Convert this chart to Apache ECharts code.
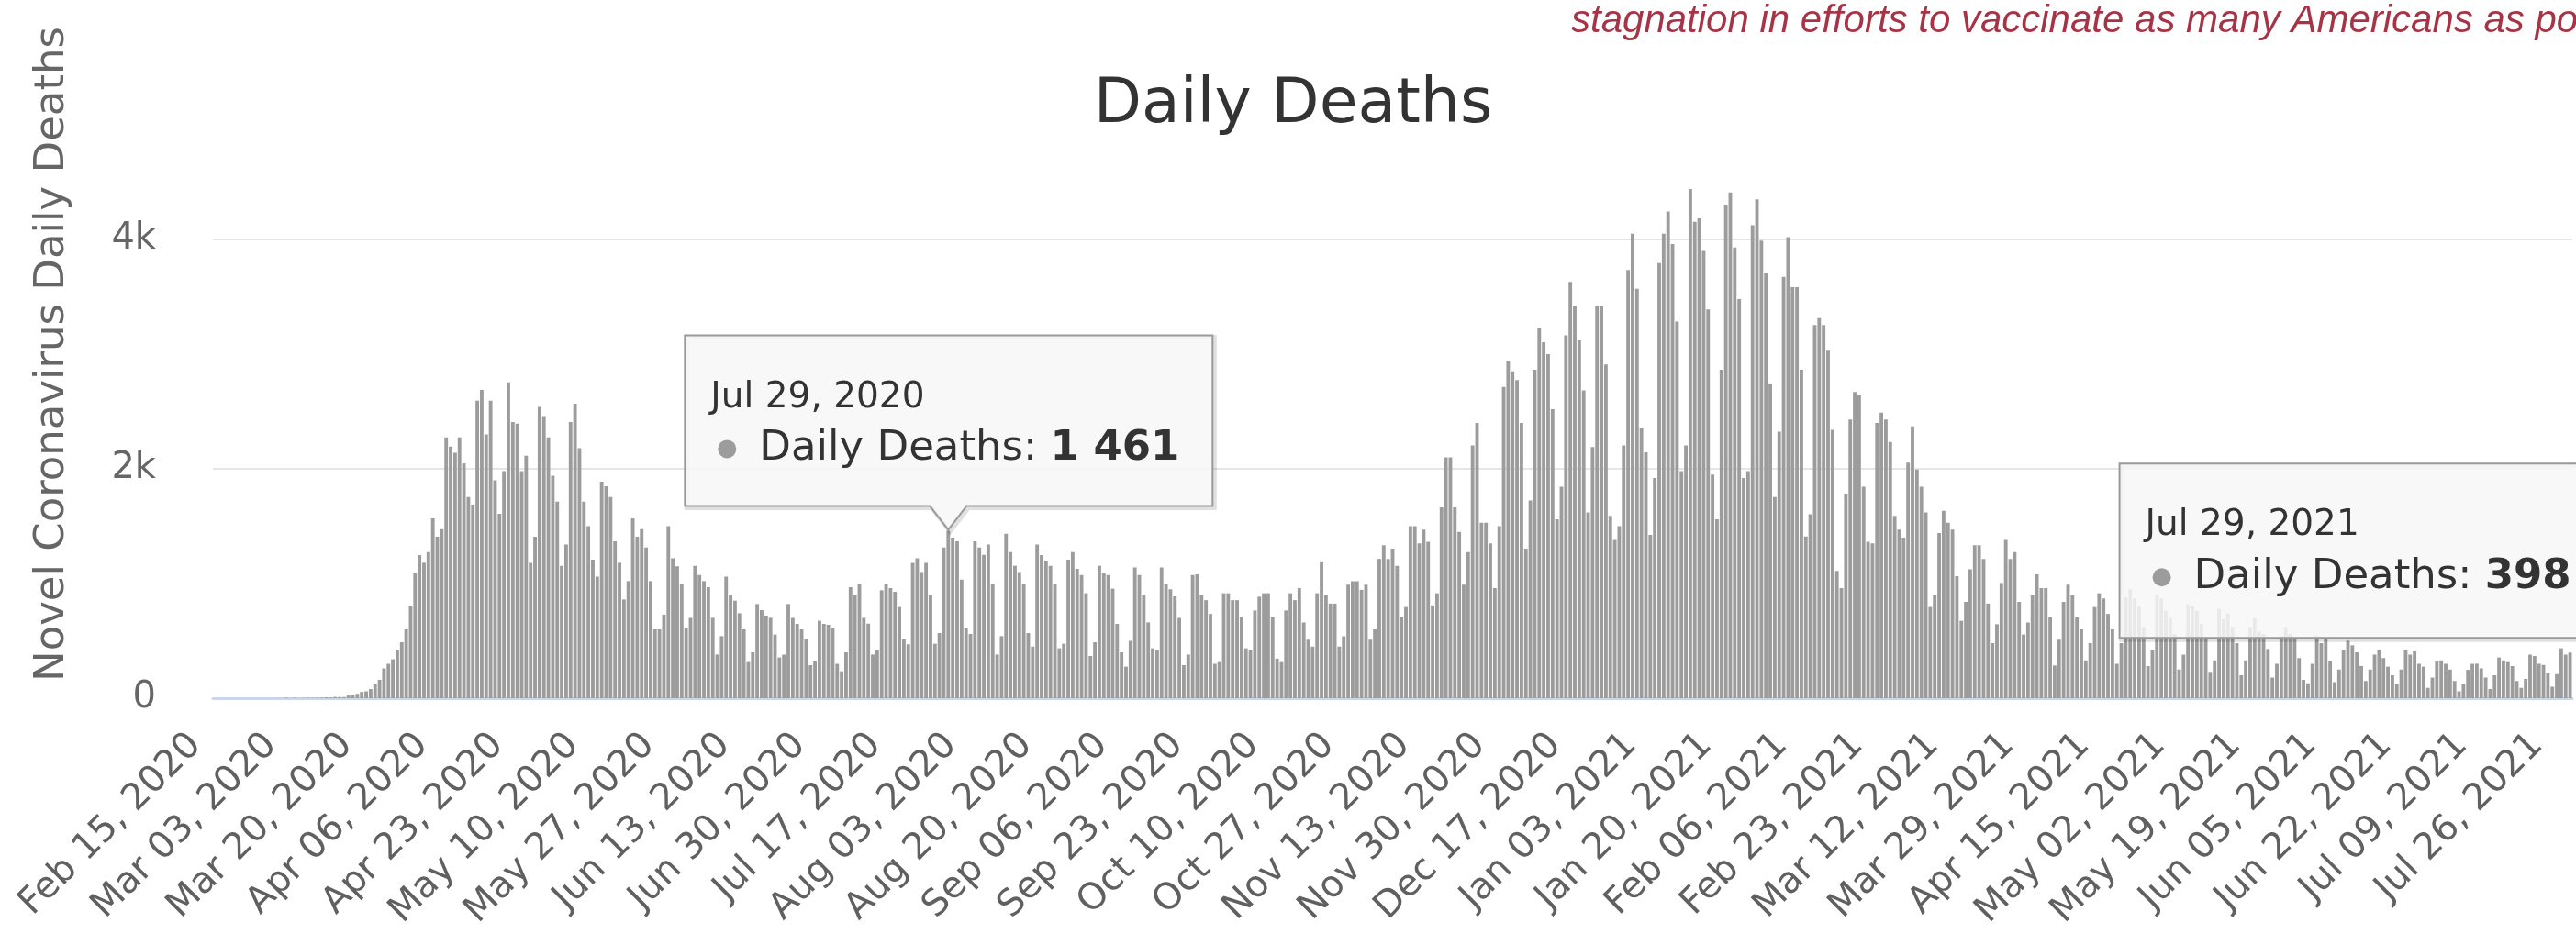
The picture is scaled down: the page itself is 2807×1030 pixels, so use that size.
<!DOCTYPE html>
<html>
<head>
<meta charset="utf-8">
<script src="https://cdn.jsdelivr.net/npm/echarts@6/dist/echarts.min.js"></script>
<style>
  html, body { margin: 0; padding: 0; background: #fff; }
  #chart { width: 2807px; height: 1030px; }
</style>
</head>
<body>
<div id="chart"></div>
<script>
// daily values, one row per week (Sat .. Fri), starting Sat Feb 15, 2020
const startDate = [2020, 1, 15]
const dailyDeaths = [
  0, 0, 0, 0, 0, 0, 0,
  0, 0, 0, 0, 0, 0, 0,
  1, 1, 5, 1, 4, 1, 3,
  4, 3, 4, 5, 8, 7, 11,
  10, 10, 23, 25, 38, 55, 60,
  80, 120, 160, 260, 300, 340, 420,
  488, 600, 808, 1088, 1248, 1181, 1275,
  1568, 1408, 1475, 2275, 2195, 2141, 2275,
  2048, 1755, 1688, 2595, 2688, 2300, 2595,
  1901, 1608, 1981, 2755, 2408, 2395, 1981,
  2115, 1181, 1408, 2541, 2461, 2275, 1941,
  1715, 1155, 1341, 2408, 2568, 2181, 1715,
  1500, 1208, 1061, 1888, 1848, 1755, 1368,
  1181, 861, 1021, 1568, 1408, 1475, 1315,
  1021, 600, 600, 728, 1501, 1221, 1150,
  995, 613, 700, 1155, 1075, 1021, 968,
  701, 381, 541, 1061, 901, 850, 741,
  600, 315, 400, 821, 768, 720, 701,
  555, 355, 380, 821, 700, 648, 600,
  515, 288, 320, 675, 648, 640, 608,
  300, 235, 400, 968, 901, 995, 701,
  650, 381, 420, 941, 995, 960, 928,
  795, 515, 470, 1181, 1221, 1100, 1181,
  901, 475, 568, 1315, 1461, 1400, 1368,
  1035, 608, 560, 1368, 1315, 1250, 1341,
  1000, 381, 541, 1435, 1275, 1155, 1100,
  1000, 568, 450, 1341, 1248, 1200, 1155,
  995, 435, 475, 1208, 1275, 1128, 1075,
  915, 368, 488, 1155, 1088, 1075, 955,
  648, 400, 275, 500, 1141, 1075, 900,
  661, 435, 420, 1141, 995, 950, 888,
  700, 288, 381, 1075, 1080, 901, 855,
  735, 300, 315, 915, 915, 855, 855,
  705, 435, 420, 765, 885, 915, 915,
  705, 345, 315, 765, 915, 855, 960,
  660, 510, 450, 915, 1185, 900, 825,
  825, 450, 540, 990, 1020, 1020, 945,
  990, 510, 600, 1215, 1335, 1215, 1305,
  1155, 705, 795, 1500, 1500, 1350, 1470,
  1365, 810, 915, 1665, 2100, 2100, 1665,
  1450, 990, 1275, 2205, 2400, 1530, 1530,
  1350, 960, 1500, 2715, 2940, 2850, 2775,
  2400, 1305, 1725, 2865, 3225, 3105, 3000,
  2520, 1560, 1845, 3165, 3630, 3420, 3120,
  2685, 1620, 2190, 3420, 3420, 2910, 1590,
  1380, 1500, 2205, 3735, 4050, 3570, 2355,
  2145, 1425, 1920, 3795, 4050, 4245, 3960,
  3285, 1980, 2205, 4440, 4155, 4185, 3900,
  3390, 1950, 1560, 2865, 4305, 4410, 3930,
  3480, 1920, 1980, 4125, 4350, 3990, 3705,
  2745, 1755, 2325, 3675, 4020, 3585, 3585,
  2865, 1410, 1605, 3255, 3315, 3255, 3030,
  2340, 1110, 960, 1785, 2430, 2670, 2640,
  1845, 1365, 1350, 2400, 2490, 2430, 2235,
  1590, 1470, 1400, 2055, 2370, 1995, 1845,
  1620, 795, 900, 1440, 1635, 1530, 1470,
  1065, 675, 840, 1125, 1335, 1335, 1215,
  825, 480, 645, 1005, 1380, 1215, 1275,
  840, 555, 660, 900, 1080, 960, 960,
  705, 285, 510, 840, 990, 900, 705,
  600, 330, 480, 795, 915, 870, 735,
  600, 300, 480, 880, 950, 870, 800,
  620, 280, 420, 900, 870, 760, 700,
  560, 250, 380, 820, 800, 760, 650,
  520, 230, 330, 780, 690, 740, 620,
  480, 200, 330, 620, 700, 580, 560,
  430, 180, 300, 540, 620, 560, 520,
  350, 160, 130, 300, 541, 480, 528,
  320, 140, 250, 420, 501, 461, 400,
  280, 150, 250, 380, 421, 350, 275,
  200, 120, 250, 421, 380, 408, 300,
  275, 90, 180, 320, 330, 300, 250,
  150, 60, 120, 248, 300, 301, 260,
  180, 80, 200, 355, 330, 315, 280,
  150, 90, 168, 380, 368, 300, 290,
  221, 100, 210, 435, 380, 398
]
const yTicks = [0, 2000, 4000]
const highlighted = [165, 530]
const seriesName = 'Daily Deaths'
const chartTitle = 'Daily Deaths'
const yAxisTitle = 'Novel Coronavirus Daily Deaths'
const noteText = 'stagnation in efforts to vaccinate as many Americans as possible'

const monthNames = ['Jan', 'Feb', 'Mar', 'Apr', 'May', 'Jun', 'Jul', 'Aug', 'Sep', 'Oct', 'Nov', 'Dec']
const categories = dailyDeaths.map((v, i) => {
  const d = new Date(startDate[0], startDate[1], startDate[2] + i)
  const day = String(d.getDate()).padStart(2, '0')
  return monthNames[d.getMonth()] + ' ' + day + ', ' + d.getFullYear()
})

const font = '"DejaVu Sans", sans-serif'
const fmtNumber = v => String(v).replace(/\B(?=(\d{3})+(?!\d))/g, ' ')

const option = {
  animation: false,
  backgroundColor: '#ffffff',
  title: {
    text: chartTitle,
    left: 1404,
    top: 76,
    textAlign: 'center',
    textStyle: { fontFamily: font, fontSize: 68, fontWeight: 'normal', color: '#333333' }
  },
  grid: {
    left: 232, right: 4, top: 11, bottom: 269,
    containLabel: false,
    outerBoundsMode: 'none'
  },
  xAxis: {
    type: 'category',
    data: categories,
    boundaryGap: true,
    axisLine: { lineStyle: { color: '#ccd6eb', width: 3 } },
    axisTick: { show: false },
    axisLabel: {
      interval: 16,
      rotate: 45,
      margin: 24,
      padding: [0, 30, 0, 0],
      color: '#606060',
      fontFamily: font,
      fontSize: 40
    },
    splitLine: { show: false }
  },
  yAxis: {
    type: 'value',
    min: yTicks[0],
    max: 6000,
    interval: yTicks[1] - yTicks[0],
    name: yAxisTitle,
    nameLocation: 'middle',
    nameRotate: 90,
    nameGap: 152,
    nameTextStyle: { fontFamily: font, fontSize: 45, color: '#666666' },
    axisLine: { show: false },
    axisTick: { show: false },
    axisLabel: {
      margin: 62,
      showMaxLabel: false,
      color: '#666666',
      fontFamily: font,
      fontSize: 40,
      formatter: v => (v === 0 ? '0' : v / 1000 + 'k')
    },
    splitLine: { showMaxLine: false, lineStyle: { color: '#e6e6e6', width: 2 } }
  },
  series: [{
    name: seriesName,
    type: 'bar',
    data: dailyDeaths,
    barCategoryGap: '20%',
    itemStyle: { color: '#9c9c9c' }
  }]
}

const chart = echarts.init(document.getElementById('chart'))
chart.setOption(option)

// static tooltips, placed from the data points themselves
const makeCallout = (idx, place) => {
  const [px, py] = chart.convertToPixel({ seriesIndex: 0 }, [idx, dailyDeaths[idx]])
  let left, top, w = 575, h = 186, points
  if (place === 'above') {
    left = px - 287
    top = py - 213
    const bottom = top + h
    points = [[left, top], [left + w, top], [left + w, bottom], [px + 20, bottom], [px, py - 1], [px - 20, bottom], [left, bottom]]
  } else {
    left = px - 491
    top = py - 206
    h = 190
    const bottom = top + h
    points = [[left, top], [left + w, top], [left + w, bottom], [left, bottom]]
  }
  const shadowPts = points.map(p => [p[0] + 2, p[1] + 2])
  return [
    {
      type: 'polygon', z: 99, shape: { points: shadowPts },
      style: { fill: 'none', stroke: 'rgba(0,0,0,0.12)', lineWidth: 5 }
    },
    {
      type: 'polygon', z: 100,
      shape: { points },
      style: { fill: 'rgba(247,247,247,0.85)', stroke: '#999999', lineWidth: 2 }
    },
    {
      type: 'text', z: 101, x: left + 28, y: top + 68,
      style: { text: categories[idx], fontFamily: font, fontSize: 39, fill: '#333333', verticalAlign: 'middle' }
    },
    {
      type: 'circle', z: 101, shape: { cx: left + 46, cy: top + 124, r: 10 },
      style: { fill: '#9c9c9c' }
    },
    {
      type: 'text', z: 101, x: left + 81, y: top + 124,
      style: {
        text: '{n|' + seriesName + ': }{b|' + fmtNumber(dailyDeaths[idx]) + '}',
        verticalAlign: 'middle',
        rich: {
          n: { fontFamily: font, fontSize: 45, fill: '#333333' },
          b: { fontFamily: font, fontSize: 45, fontWeight: 'bold', fill: '#333333' }
        }
      }
    }
  ]
}

chart.setOption({
  graphic: [
    {
      type: 'text', z: 100, x: 1712, y: 2,
      style: {
        text: noteText, fontFamily: '"Liberation Sans", sans-serif', fontStyle: 'italic',
        fontSize: 42, fill: '#a63446'
      }
    },
    ...makeCallout(highlighted[0], 'above'),
    ...makeCallout(highlighted[1], 'left')
  ]
})
</script>
</body>
</html>
